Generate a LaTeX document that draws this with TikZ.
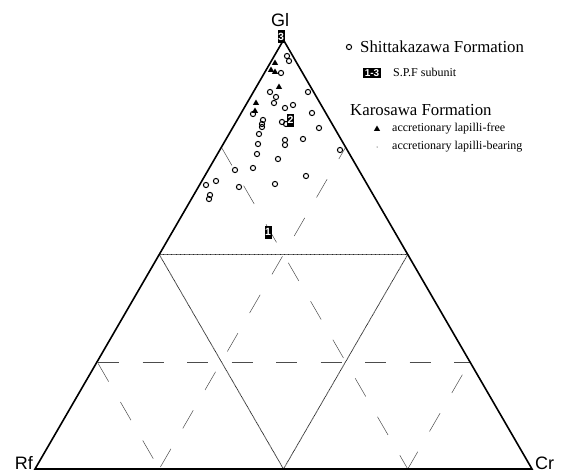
\documentclass[tikz,border=0pt]{standalone}
\usepackage{fontspec}
\setmainfont{Liberation Serif}
\newfontfamily\axisfont{Liberation Sans}
\usetikzlibrary{arrows,positioning,shapes,fit,calc}

\begin{document}
\begin{tikzpicture}[x=1pt, y=-1pt,
  sz node/.style={circle,draw,line width=1pt,minimum size=5.2pt,inner sep=0pt},
  kf node/.style={regular polygon,regular polygon sides=3,fill,minimum size=7pt,inner sep=0pt},
  unit node/.style={fill=black,text=white,font=\axisfont\fontsize{10.5}{10.5}\selectfont\bfseries,minimum width=7pt,minimum height=13pt,inner sep=0pt},
  corner node/.style={font=\axisfont\fontsize{18}{18}\selectfont,inner sep=0pt},
  legend text/.style={anchor=base west,inner sep=0pt,font=\fontsize{16.8}{20}\selectfont},
  small text/.style={anchor=base west,inner sep=0pt,font=\fontsize{12}{14}\selectfont},
  guide/.style={black!70,line width=0.5pt,dash pattern=on 21pt off 23.5pt},
  half/.style={black!85,line width=0.8pt,dash pattern=on 0.8pt off 0.5pt}]
\useasboundingbox (0,0) rectangle (571,474);
\coordinate (Gl) at (283.5,40);
\coordinate (Rf) at (35,469);
\coordinate (Cr) at (532,469);
\coordinate (mL) at ($(Gl)!0.5!(Rf)$);
\coordinate (mR) at ($(Gl)!0.5!(Cr)$);
\coordinate (mB) at ($(Rf)!0.5!(Cr)$);
\coordinate (qL1) at ($(Gl)!0.25!(Rf)$);
\coordinate (qL3) at ($(Gl)!0.75!(Rf)$);
\coordinate (qR1) at ($(Gl)!0.25!(Cr)$);
\coordinate (qR3) at ($(Gl)!0.75!(Cr)$);
\coordinate (qB1) at ($(Rf)!0.25!(Cr)$);
\coordinate (qB3) at ($(Rf)!0.75!(Cr)$);
% 25% and 75% guides
\draw [guide, dash phase=43.5pt] (qL3) -- (qR3);
\draw [guide] (qL1) -- (qB3);
\draw [guide, dash phase=7.5pt] (qR1) -- (qB1);
\draw [guide, dash phase=42.5pt] (qL3) -- (qB1);
\draw [guide, dash phase=29.5pt] (qR3) -- (qB3);
\draw [half] (mL) -- (mR) -- (mB) -- cycle;
\draw [line width=1.6pt] (Gl) -- (Rf) -- (Cr) -- cycle;
\node[corner node, anchor=base] (lGl) at (280,26) {Gl};
\node[corner node, anchor=base east] (lRf) at (33,469) {Rf};
\node[corner node, anchor=base west] (lCr) at (535,469) {Cr};
% Shittakazawa Formation
\node[sz node] (s1) at (287,56) {};
\node[sz node] (s2) at (289,61) {};
\node[sz node] (s3) at (281,73) {};
\node[sz node] (s4) at (270,92) {};
\node[sz node] (s5) at (276,97) {};
\node[sz node] (s6) at (274,103) {};
\node[sz node] (s7) at (308,92) {};
\node[sz node] (s8) at (285,108) {};
\node[sz node] (s9) at (293,105) {};
\node[sz node] (s10) at (312,113) {};
\node[sz node] (s11) at (253,114) {};
\node[sz node] (s12) at (263,120) {};
\node[sz node] (s13) at (262,124) {};
\node[sz node] (s14) at (262,127) {};
\node[sz node] (s15) at (259,134) {};
\node[sz node] (s16) at (282,122) {};
\node[sz node] (s17) at (286,124) {};
\node[sz node] (s18) at (319,128) {};
\node[sz node] (s19) at (285,140) {};
\node[sz node] (s20) at (285,145) {};
\node[sz node] (s21) at (303,139) {};
\node[sz node] (s22) at (258,144) {};
\node[sz node] (s23) at (257,154) {};
\node[sz node] (s24) at (278,159) {};
\node[sz node] (s25) at (340,150) {};
\node[sz node] (s26) at (253,168) {};
\node[sz node] (s27) at (235,170) {};
\node[sz node] (s28) at (216,181) {};
\node[sz node] (s29) at (206,185) {};
\node[sz node] (s30) at (239,187) {};
\node[sz node] (s31) at (275,184) {};
\node[sz node] (s32) at (306,176) {};
\node[sz node] (s33) at (210,195) {};
\node[sz node] (s34) at (209,199) {};
% Karosawa Formation
\node[kf node] (k1) at (275,63) {};
\node[kf node] (k2) at (271,70) {};
\node[kf node] (k3) at (275,72) {};
\node[kf node] (k4) at (279,87) {};
\node[kf node] (k5) at (256,103) {};
\node[kf node] (k6) at (255,111) {};
% subunits
\node[unit node] (u3) at (281,36.7) {3};
\node[unit node] (u2) at (290.5,120) {2};
\node[unit node] (u1) at (268,232) {1};
% legend
\node[sz node] (ls) at (349,47) {};
\node[legend text] (lst) at (360,52) {Shittakazawa Formation};
\node[unit node, minimum width=17.7pt, minimum height=10pt, font=\axisfont\fontsize{10}{10}\selectfont\bfseries] (lu) at (372,73.3) {1-3};
\node[small text] (lut) at (393,76.5) {S.P.F subunit};
\node[legend text] (lk) at (350,115) {Karosawa Formation};
\node[kf node] (lkf) at (377,129) {};
\node[small text] (lkft) at (392,131.7) {accretionary lapilli-free};
\node[circle, fill, minimum size=1pt, inner sep=0pt] (lkb) at (377,147) {};
\node[small text] (lkbt) at (392,149) {accretionary lapilli-bearing};
\end{tikzpicture}
\end{document}
